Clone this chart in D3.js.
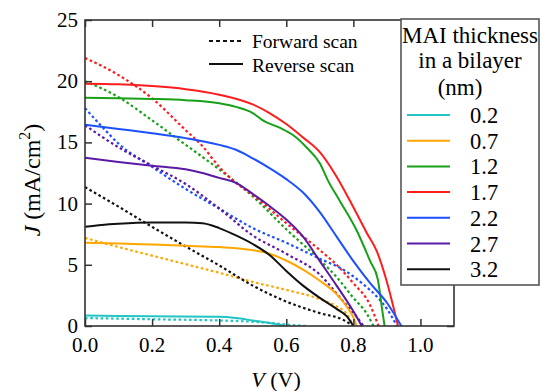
<!DOCTYPE html>
<html>
<head>
<meta charset="utf-8">
<script src="https://cdn.jsdelivr.net/npm/d3@7"></script>
<style>
  body { margin: 0; background: #fff; }
  svg { display: block; font-family: "Liberation Serif", "Times New Roman", serif; }
</style>
</head>
<body>
<div id="chart"></div>
<script>
// thickness labels (nm) and colours
var thickness = ["0.2", "0.7", "1.2", "1.7", "2.2", "2.7", "3.2"];
var colors = ["#22c4c4", "#ffa600", "#18a018", "#ff1c1c", "#1c50ff", "#5a1aa6", "#111111"];

// reverse scans [V, J]
var rev02 = [[0,0.85],[0.2,0.8],[0.4,0.75],[0.45,0.65],[0.5,0.45],[0.55,0.25],[0.6,0.0]];
var rev07 = [[0,6.8],[0.1,6.75],[0.2,6.65],[0.3,6.55],[0.4,6.45],[0.5,6.2],[0.55,5.9],[0.6,5.35],[0.65,4.6],[0.7,3.7],[0.75,2.6],[0.78,1.6],[0.8,0.7],[0.81,0]];
var rev12 = [[0,18.65],[0.1,18.6],[0.2,18.55],[0.3,18.45],[0.4,18.2],[0.45,17.9],[0.5,17.4],[0.53,16.8],[0.58,16.2],[0.62,15.6],[0.66,14.6],[0.7,13.3],[0.724,11.9],[0.76,10.2],[0.81,7.8],[0.85,5.3],[0.873,3.8],[0.885,1.5],[0.893,0]];
var rev17 = [[0,19.8],[0.1,19.75],[0.2,19.6],[0.3,19.35],[0.4,18.9],[0.5,18.1],[0.55,17.4],[0.6,16.5],[0.65,15.4],[0.7,14.2],[0.75,12.2],[0.8,9.7],[0.84,7.6],[0.87,6.1],[0.9,3.6],[0.933,0]];
var rev22 = [[0,16.45],[0.1,16.1],[0.2,15.75],[0.3,15.35],[0.4,14.8],[0.45,14.4],[0.5,13.7],[0.55,12.9],[0.6,12.0],[0.65,10.9],[0.7,9.3],[0.75,7.3],[0.8,5.3],[0.85,3.5],[0.9,1.9],[0.943,0]];
var rev27 = [[0,13.75],[0.1,13.4],[0.2,13.1],[0.3,12.8],[0.35,12.5],[0.4,12.1],[0.45,11.7],[0.5,10.8],[0.55,9.8],[0.6,8.7],[0.65,7.3],[0.7,5.3],[0.75,3.3],[0.8,1.2],[0.825,0]];
var rev32 = [[0,8.1],[0.05,8.25],[0.1,8.35],[0.2,8.45],[0.3,8.45],[0.35,8.4],[0.4,8.0],[0.45,7.4],[0.5,6.7],[0.55,5.8],[0.6,4.5],[0.65,3.3],[0.7,2.3],[0.75,1.4],[0.78,0.8],[0.8,0]];

// forward scans [V, J]
var fwd02 = [[0,0.65],[0.2,0.55],[0.4,0.45],[0.5,0.35],[0.55,0.25],[0.6,0.12],[0.66,0]];
var fwd07 = [[0,7.2],[0.1,6.45],[0.2,5.75],[0.3,5.05],[0.4,4.35],[0.5,3.6],[0.6,2.95],[0.7,2.2],[0.75,1.6],[0.78,1.0],[0.8,0]];
var fwd12 = [[0,20.0],[0.1,18.7],[0.2,16.8],[0.3,14.8],[0.4,12.8],[0.5,10.6],[0.6,7.9],[0.7,5.4],[0.75,4.0],[0.8,2.3],[0.84,1.0],[0.86,0]];
var fwd17 = [[0,21.9],[0.1,20.5],[0.2,18.6],[0.3,16.0],[0.35,14.7],[0.4,13.0],[0.45,11.7],[0.5,10.7],[0.6,8.4],[0.7,6.2],[0.75,5.0],[0.8,3.5],[0.85,1.7],[0.875,0]];
var fwd22 = [[0,17.8],[0.05,16.3],[0.1,14.9],[0.2,13.0],[0.3,11.2],[0.4,9.6],[0.5,8.0],[0.6,6.8],[0.7,5.5],[0.77,4.6],[0.83,3.4],[0.87,2.4],[0.9,1.4],[0.93,0]];
var fwd27 = [[0,16.4],[0.1,14.6],[0.2,13.1],[0.3,11.6],[0.4,9.6],[0.5,7.4],[0.6,5.9],[0.7,4.2],[0.77,2.0],[0.8,1.1],[0.83,0]];
var fwd32 = [[0,11.35],[0.1,9.75],[0.2,8.1],[0.3,6.5],[0.4,4.95],[0.5,3.3],[0.6,2.0],[0.7,1.05],[0.77,0.5],[0.8,0]];

var reverse = [rev02, rev07, rev12, rev17, rev22, rev27, rev32];
var forward = [fwd02, fwd07, fwd12, fwd17, fwd22, fwd27, fwd32];

var xTicks = [0.0, 0.2, 0.4, 0.6, 0.8, 1.0];
var yTicks = [0, 5, 10, 15, 20, 25];

var W = 541, H = 391;
var plotL = 85, plotR = 454, plotT = 20, plotB = 326;

var svg = d3.select("#chart").append("svg")
	.attr("width", W)
	.attr("height", H);

var x = d3.scaleLinear().domain([0, 1.1]).range([plotL, plotR]);
var y = d3.scaleLinear().domain([0, 25]).range([plotB, plotT]);

svg.append("clipPath").attr("id", "clip")
	.append("rect")
	.attr("x", plotL).attr("y", plotT)
	.attr("width", plotR - plotL).attr("height", plotB - plotT);

var line = d3.line()
	.x(function(d){ return x(d[0]); })
	.y(function(d){ return y(d[1]); })
	.curve(d3.curveMonotoneX);

var curves = svg.append("g").attr("clip-path", "url(#clip)");

// dotted forward scans underneath
forward.forEach(function(s, i){
	curves.append("path")
		.attr("d", line(s))
		.attr("fill", "none")
		.attr("stroke", colors[i])
		.attr("stroke-width", 2.2)
		.attr("stroke-dasharray", "2.6,2.6");
});
reverse.forEach(function(s, i){
	curves.append("path")
		.attr("d", line(s))
		.attr("fill", "none")
		.attr("stroke", colors[i])
		.attr("stroke-width", 2);
});

// axes, ticks inward on all four sides
var tk = 7;
var axColor = "#333";
svg.append("g").attr("transform", "translate(0," + plotB + ")")
	.call(d3.axisTop(x).tickValues(xTicks).tickSize(tk).tickFormat(""))
	.call(function(g){ g.select(".domain").remove(); });
svg.append("g").attr("transform", "translate(0," + plotT + ")")
	.call(d3.axisBottom(x).tickValues(xTicks).tickSize(tk).tickFormat(""))
	.call(function(g){ g.select(".domain").remove(); });
svg.append("g").attr("transform", "translate(" + plotL + ",0)")
	.call(d3.axisRight(y).tickValues(yTicks).tickSize(tk).tickFormat(""))
	.call(function(g){ g.select(".domain").remove(); });
svg.append("g").attr("transform", "translate(" + plotR + ",0)")
	.call(d3.axisLeft(y).tickValues(yTicks).tickSize(tk).tickFormat(""))
	.call(function(g){ g.select(".domain").remove(); });
svg.selectAll(".tick line").attr("stroke", axColor).attr("stroke-width", 1.5);

svg.append("rect")
	.attr("x", plotL).attr("y", plotT)
	.attr("width", plotR - plotL).attr("height", plotB - plotT)
	.attr("fill", "none")
	.attr("stroke", axColor)
	.attr("stroke-width", 1.6);

// tick labels
svg.append("g").selectAll("text")
	.data(xTicks)
	.enter().append("text")
	.attr("x", function(d){ return x(d); })
	.attr("y", 352)
	.attr("text-anchor", "middle")
	.attr("font-size", 21)
	.text(function(d){ return d.toFixed(1); });

svg.append("g").selectAll("text")
	.data(yTicks)
	.enter().append("text")
	.attr("x", 78)
	.attr("y", function(d){ return y(d) + 7; })
	.attr("text-anchor", "end")
	.attr("font-size", 21)
	.text(function(d){ return d; });

// axis titles
var xt = svg.append("text")
	.attr("x", 276).attr("y", 387)
	.attr("text-anchor", "middle")
	.attr("font-size", 22);
xt.append("tspan").attr("font-style", "italic").text("V");
xt.append("tspan").text(" (V)");

var yt = svg.append("text")
	.attr("transform", "translate(40,180) rotate(-90)")
	.attr("text-anchor", "middle")
	.attr("font-size", 24);
yt.append("tspan").attr("font-style", "italic").text("J");
yt.append("tspan").text(" (mA/cm");
yt.append("tspan").attr("font-size", 16).attr("dy", -10).text("2");
yt.append("tspan").attr("dy", 10).text(")");

// scan type legend
var scan = svg.append("g");
scan.append("line")
	.attr("x1", 209).attr("x2", 243).attr("y1", 41).attr("y2", 41)
	.attr("stroke", "#111").attr("stroke-width", 2).attr("stroke-dasharray", "4,3");
scan.append("line")
	.attr("x1", 209).attr("x2", 243).attr("y1", 64).attr("y2", 64)
	.attr("stroke", "#111").attr("stroke-width", 2);
scan.append("text").attr("x", 252).attr("y", 48).attr("font-size", 19.5).text("Forward scan");
scan.append("text").attr("x", 252).attr("y", 72).attr("font-size", 19.5).text("Reverse scan");

// thickness legend box
var lg = svg.append("g");
lg.append("rect")
	.attr("x", 401).attr("y", 19)
	.attr("width", 138).attr("height", 266)
	.attr("fill", "#fff")
	.attr("stroke", "#555")
	.attr("stroke-width", 1.6);
lg.append("text").attr("x", 470).attr("y", 43).attr("text-anchor", "middle").attr("font-size", 23).text("MAI thickness");
lg.append("text").attr("x", 470).attr("y", 68).attr("text-anchor", "middle").attr("font-size", 23).text("in a bilayer");
lg.append("text").attr("x", 460).attr("y", 95).attr("text-anchor", "middle").attr("font-size", 23).text("(nm)");

var items = lg.selectAll(".item")
	.data(thickness)
	.enter().append("g")
	.attr("transform", function(d, i){ return "translate(0," + (115 + i * 25.7) + ")"; });
items.append("line")
	.attr("x1", 407).attr("x2", 450)
	.attr("stroke", function(d, i){ return colors[i]; })
	.attr("stroke-width", 2);
items.append("text")
	.attr("x", 470).attr("y", 8)
	.attr("font-size", 22.5)
	.text(function(d){ return d; });
</script>
</body>
</html>
